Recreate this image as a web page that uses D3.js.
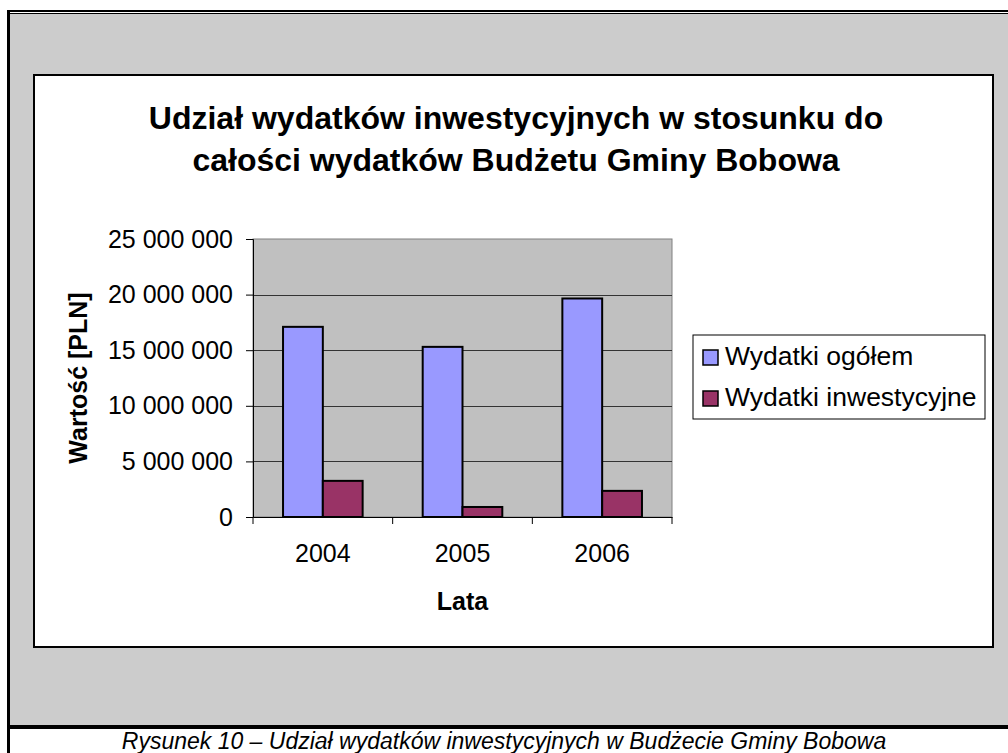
<!DOCTYPE html>
<html>
<head>
<meta charset="utf-8">
<script src="https://cdn.jsdelivr.net/npm/d3@7"></script>
<style>
  body { margin: 0; background: #fff; }
  text { font-family: "Liberation Sans", Arial, sans-serif; }
</style>
</head>
<body>
<script>
// dane
var years = ['2004', '2005', '2006'];
var seriesNames = ['Wydatki ogółem', 'Wydatki inwestycyjne'];
var ogolem = [17100000, 15300000, 19650000];
var inwestycyjne = [3250000, 900000, 2350000];
var yTicks = [0, 5000000, 10000000, 15000000, 20000000, 25000000];
var colors = ['#9999ff', '#993366'];

var W = 1008, H = 753;

var svg = d3.select('body')
  .append('svg')
  .attr('width', W)
  .attr('height', H);

// szara ramka
svg.append('rect').attr('x', 0).attr('y', 0).attr('width', W).attr('height', H).attr('fill', '#fff');
svg.append('rect').attr('x', 10).attr('y', 13).attr('width', W).attr('height', 713).attr('fill', '#cccccc');
svg.append('line').attr('x1', 7).attr('x2', W).attr('y1', 11).attr('y2', 11).attr('stroke', '#000').attr('stroke-width', 2);
svg.append('line').attr('x1', 10).attr('x2', W).attr('y1', 13.5).attr('y2', 13.5).attr('stroke', '#000').attr('stroke-width', 1);
svg.append('line').attr('x1', 8.5).attr('x2', 8.5).attr('y1', 10).attr('y2', H).attr('stroke', '#000').attr('stroke-width', 3);
svg.append('line').attr('x1', 7).attr('x2', W).attr('y1', 727).attr('y2', 727).attr('stroke', '#000').attr('stroke-width', 4);

// biale pole wykresu
svg.append('rect')
  .attr('x', 34).attr('y', 75).attr('width', 959).attr('height', 572)
  .attr('fill', '#fff').attr('stroke', '#000').attr('stroke-width', 2);

// tytul
var title = svg.append('text')
  .attr('text-anchor', 'middle')
  .attr('font-weight', 'bold')
  .attr('font-size', 32);
title.append('tspan').attr('x', 516).attr('y', 129).text('Udział wydatków inwestycyjnych w stosunku do');
title.append('tspan').attr('x', 516).attr('y', 171).text('całości wydatków Budżetu Gminy Bobowa');

// skale
var plot = { left: 253, right: 672, top: 239, bottom: 517 };

var x0 = d3.scaleBand().domain(years).range([plot.left, plot.right]);
var bw = x0.bandwidth();
var x1 = d3.scaleBand().domain(seriesNames).range([bw * 0.215, bw * 0.785]);
var y = d3.scaleLinear().domain([0, 25000000]).range([plot.bottom, plot.top]);

var pl = d3.formatLocale({ decimal: ',', thousands: ' ', grouping: [3], currency: ['', ''] });
var fmt = pl.format(',');

// tlo obszaru kreslenia
svg.append('rect')
  .attr('x', plot.left).attr('y', plot.top)
  .attr('width', plot.right - plot.left).attr('height', plot.bottom - plot.top)
  .attr('fill', '#c0c0c0').attr('stroke', '#808080').attr('stroke-width', 1);

// linie siatki
svg.selectAll('.grid')
  .data(yTicks.slice(1, -1))
  .enter()
    .append('line')
    .attr('x1', plot.left).attr('x2', plot.right)
    .attr('y1', function(d) { return Math.round(y(d)) + 0.5; })
    .attr('y2', function(d) { return Math.round(y(d)) + 0.5; })
    .attr('stroke', '#333').attr('stroke-width', 1);

// slupki
var rows = years.map(function(yr, i) {
  return { year: yr, values: [ogolem[i], inwestycyjne[i]] };
});

var groups = svg.selectAll('.grp')
  .data(rows)
  .enter()
    .append('g')
    .attr('transform', function(d) { return 'translate(' + x0(d.year) + ',0)'; });

groups.selectAll('rect')
  .data(function(d) { return d.values.map(function(v, j) { return { s: seriesNames[j], v: v, j: j }; }); })
  .enter()
    .append('rect')
    .attr('x', function(d) { return x1(d.s); })
    .attr('width', x1.bandwidth())
    .attr('y', function(d) { return y(d.v); })
    .attr('height', function(d) { return y(0) - y(d.v); })
    .attr('fill', function(d) { return colors[d.j]; })
    .attr('stroke', '#000')
    .attr('stroke-width', 2);

// os Y
var yAxis = d3.axisLeft(y).tickValues(yTicks).tickFormat(fmt).tickSize(7).tickPadding(13);
var gy = svg.append('g').attr('transform', 'translate(' + plot.left + ',0)').call(yAxis);
gy.selectAll('text').attr('font-size', 25).attr('fill', '#000').style('font-family', '"Liberation Sans", Arial, sans-serif');
gy.selectAll('line, path').attr('stroke', '#000');

// os X
var xAxis = d3.axisBottom(x0).tickSize(0).tickPadding(27);
var gx = svg.append('g').attr('transform', 'translate(0,' + plot.bottom + ')').call(xAxis);
gx.select('.domain').attr('stroke', '#000');
gx.selectAll('text').attr('font-size', 25).attr('fill', '#000').style('font-family', '"Liberation Sans", Arial, sans-serif');
// znaczniki na granicach kategorii
gx.selectAll('.bound')
  .data(years.concat(['end']))
  .enter()
    .append('line')
    .attr('x1', function(d, i) { return i < years.length ? x0(d) : plot.right; })
    .attr('x2', function(d, i) { return i < years.length ? x0(d) : plot.right; })
    .attr('y1', 0).attr('y2', 7)
    .attr('stroke', '#000');

// tytuly osi
svg.append('text')
  .attr('transform', 'translate(87,' + (plot.top + plot.bottom) / 2 + ') rotate(-90)')
  .attr('text-anchor', 'middle')
  .attr('font-weight', 'bold')
  .attr('font-size', 25)
  .text('Wartość [PLN]');

svg.append('text')
  .attr('x', (plot.left + plot.right) / 2)
  .attr('y', 610)
  .attr('text-anchor', 'middle')
  .attr('font-weight', 'bold')
  .attr('font-size', 25)
  .text('Lata');

// legenda
var legend = svg.append('g').attr('transform', 'translate(693,335)');
legend.append('rect')
  .attr('width', 292).attr('height', 84)
  .attr('fill', '#fff').attr('stroke', '#000').attr('stroke-width', 1);
var li = legend.selectAll('.li')
  .data(seriesNames)
  .enter()
    .append('g')
    .attr('transform', function(d, i) { return 'translate(0,' + (i * 41) + ')'; });
li.append('rect')
  .attr('x', 10).attr('y', 15).attr('width', 15).attr('height', 15)
  .attr('fill', function(d, i) { return colors[i]; })
  .attr('stroke', '#000').attr('stroke-width', 1.5);
li.append('text')
  .attr('x', 32).attr('y', 30)
  .attr('font-size', 26.5)
  .text(function(d) { return d; });

// podpis
svg.append('text')
  .attr('x', 504).attr('y', 749)
  .attr('text-anchor', 'middle')
  .attr('font-style', 'italic')
  .attr('font-size', 23)
  .text('Rysunek 10 – Udział wydatków inwestycyjnych w Budżecie Gminy Bobowa');
</script>
</body>
</html>
